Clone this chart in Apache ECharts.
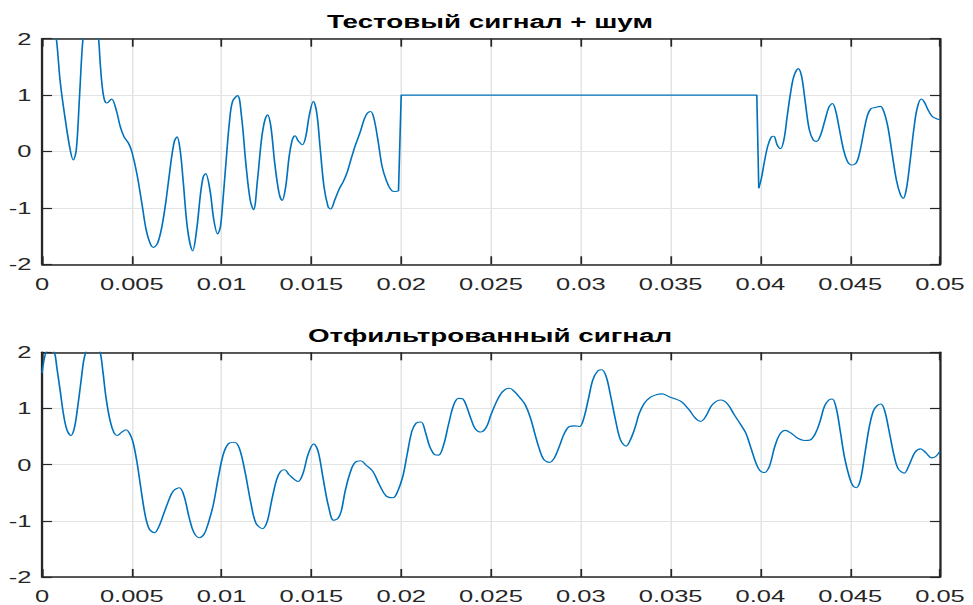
<!DOCTYPE html>
<html>
<head>
<meta charset="utf-8">
<script src="https://cdn.jsdelivr.net/npm/echarts@6/dist/echarts.min.js"></script>
<style>
  html, body { margin: 0; padding: 0; background: #fff; overflow: hidden; }
  #wrap { width: 973px; height: 605px; overflow: hidden; position: relative; }
  #chart { position: absolute; left: 0; top: 0; height: 605px; transform-origin: 0 0; }
</style>
</head>
<body>
<div id="wrap"><div id="chart"></div></div>
<script>
// ---- data -------------------------------------------------------------
const titleTop = 'Тестовый сигнал + шум';
const titleBottom = 'Отфильтрованный сигнал';

const xTickLabels = ['0', '0.005', '0.01', '0.015', '0.02', '0.025', '0.03', '0.035', '0.04', '0.045', '0.05'];
const yTickLabels = ['-2', '-1', '0', '1', '2'];

// test signal, noisy part before the pulse: [time, value]
const testNoiseA = [
  [0, 3.6], [0.0004, 2.9], [0.0008, 2.0], [0.00102, 1.22], [0.0013, 0.56], [0.00157, 0.03],
  [0.00174, -0.15], [0.00191, 0.03], [0.00209, 0.98], [0.00228, 2.0], [0.0027, 3.2],
  [0.00315, 2.0], [0.00324, 1.57], [0.00335, 1.16], [0.00348, 0.91], [0.00361, 0.86],
  [0.00387, 0.93], [0.00413, 0.74], [0.00435, 0.45], [0.00457, 0.26], [0.00481, 0.15],
  [0.005, 0.0], [0.00528, -0.39], [0.00556, -0.92], [0.0058, -1.39], [0.00602, -1.63],
  [0.0062, -1.70], [0.00643, -1.63], [0.00667, -1.34], [0.00691, -0.86], [0.00717, -0.21],
  [0.00737, 0.18], [0.00752, 0.26], [0.00769, 0.03], [0.00787, -0.56], [0.00811, -1.39],
  [0.00839, -1.76], [0.00861, -1.39], [0.00883, -0.74], [0.00898, -0.45], [0.00911, -0.39],
  [0.00935, -0.68], [0.00957, -1.22], [0.00978, -1.46], [0.00993, -1.34], [0.01006, -0.92],
  [0.01024, -0.21], [0.01043, 0.50], [0.01061, 0.89], [0.01089, 0.99], [0.01111, 0.62],
  [0.01135, -0.21], [0.01159, -0.86], [0.01178, -1.03], [0.012, -0.50], [0.01222, 0.21],
  [0.01241, 0.56], [0.01256, 0.65], [0.01274, 0.45], [0.01296, -0.21], [0.0132, -0.74],
  [0.01337, -0.87], [0.01357, -0.62], [0.01376, -0.09], [0.01394, 0.21], [0.01409, 0.28],
  [0.01428, 0.18], [0.0145, 0.12], [0.01469, 0.27], [0.01487, 0.62], [0.01511, 0.89],
  [0.0153, 0.68], [0.01548, 0.09], [0.0157, -0.62], [0.01593, -0.98], [0.01607, -1.02],
  [0.0163, -0.86], [0.01654, -0.67], [0.01678, -0.53], [0.017, -0.36], [0.01722, -0.12],
  [0.01746, 0.12], [0.0177, 0.33], [0.01793, 0.56], [0.01811, 0.68], [0.0183, 0.71],
  [0.01848, 0.59], [0.0187, 0.21], [0.01894, -0.27], [0.01919, -0.53], [0.01941, -0.67],
  [0.01959, -0.71], [0.01985, -0.70]
];

// test signal, rectangular pulse
const testPulse = [[0.01985, -0.70], [0.02, 1.0], [0.0398, 1.0], [0.03991, -0.65]];

// test signal, noisy part after the pulse
const testNoiseB = [
  [0.03991, -0.65], [0.04006, -0.47], [0.04024, -0.15], [0.04043, 0.12], [0.04062, 0.26],
  [0.04075, 0.27], [0.04093, 0.12], [0.04112, 0.05], [0.04131, 0.21], [0.04149, 0.62],
  [0.04168, 1.04], [0.04187, 1.34], [0.04211, 1.47], [0.04229, 1.34], [0.04248, 0.92],
  [0.04272, 0.39], [0.04295, 0.20], [0.04313, 0.18], [0.04336, 0.30], [0.0436, 0.56],
  [0.04382, 0.79], [0.04401, 0.85], [0.0442, 0.71], [0.0444, 0.39], [0.04463, 0.03],
  [0.04485, -0.18], [0.04509, -0.24], [0.04534, -0.20], [0.04556, 0.03], [0.04578, 0.39],
  [0.04597, 0.65], [0.04616, 0.76], [0.0464, 0.78], [0.04668, 0.80], [0.04687, 0.71],
  [0.04709, 0.45], [0.04733, -0.03], [0.04757, -0.50], [0.0478, -0.77], [0.04795, -0.83],
  [0.04812, -0.68], [0.04832, -0.21], [0.04854, 0.39], [0.04873, 0.77], [0.04896, 0.93],
  [0.04914, 0.87], [0.04933, 0.74], [0.04957, 0.62], [0.04981, 0.58], [0.05, 0.56]
];

// filtered signal
const filtered = [
  [0, 1.63], [0.00013, 1.89], [0.00024, 2.0], [0.00048, 2.06], [0.00069, 2.0], [0.00083, 1.72],
  [0.00102, 1.30], [0.0012, 0.89], [0.00139, 0.62], [0.00161, 0.52], [0.0018, 0.65],
  [0.00198, 1.01], [0.00217, 1.48], [0.00231, 1.83], [0.00243, 2.0], [0.00283, 2.4],
  [0.00324, 2.0], [0.00339, 1.66], [0.00357, 1.18], [0.0038, 0.77], [0.00402, 0.56],
  [0.0042, 0.52], [0.00444, 0.58], [0.00469, 0.62], [0.00487, 0.56], [0.00506, 0.41],
  [0.00528, 0.06], [0.0055, -0.41], [0.00574, -0.89], [0.00598, -1.15], [0.00626, -1.21],
  [0.00648, -1.12], [0.00676, -0.89], [0.00704, -0.65], [0.00731, -0.47], [0.00765, -0.41],
  [0.00791, -0.56], [0.0082, -0.95], [0.00846, -1.21], [0.00876, -1.30], [0.00902, -1.24],
  [0.00926, -1.04], [0.00954, -0.71], [0.00981, -0.24], [0.01009, 0.18], [0.01037, 0.37],
  [0.0107, 0.40], [0.01098, 0.30], [0.0113, -0.12], [0.01161, -0.65], [0.01191, -1.04],
  [0.01228, -1.14], [0.01254, -1.01], [0.01278, -0.65], [0.01306, -0.27], [0.01328, -0.12],
  [0.01352, -0.09], [0.01376, -0.18], [0.01426, -0.30], [0.01454, -0.15], [0.01481, 0.18],
  [0.01513, 0.37], [0.01537, 0.24], [0.01565, -0.24], [0.01593, -0.71], [0.01624, -0.99],
  [0.01647, -0.96], [0.01666, -0.83], [0.01688, -0.47], [0.01712, -0.18], [0.0174, 0.03],
  [0.01774, 0.07], [0.01805, -0.01], [0.01842, -0.12], [0.01879, -0.36], [0.01917, -0.56],
  [0.01954, -0.59], [0.01981, -0.47], [0.02009, -0.21], [0.02033, 0.18], [0.02059, 0.59],
  [0.02083, 0.74], [0.02111, 0.76], [0.02134, 0.59], [0.02158, 0.33], [0.02186, 0.18],
  [0.02208, 0.17], [0.02237, 0.36], [0.02263, 0.71], [0.02293, 1.07], [0.02319, 1.18],
  [0.02343, 1.17], [0.02367, 1.01], [0.0239, 0.80], [0.02412, 0.64], [0.02442, 0.58],
  [0.02473, 0.66], [0.025, 0.89], [0.02529, 1.11], [0.02557, 1.27], [0.02584, 1.35],
  [0.02603, 1.36], [0.02631, 1.30], [0.02664, 1.18], [0.0269, 1.07], [0.0272, 0.83],
  [0.02746, 0.53], [0.0277, 0.27], [0.02794, 0.09], [0.02826, 0.04], [0.02853, 0.12],
  [0.02881, 0.33], [0.02909, 0.56], [0.02937, 0.68], [0.02968, 0.69], [0.02993, 0.68],
  [0.03017, 0.83], [0.03043, 1.18], [0.03067, 1.51], [0.03095, 1.67], [0.03117, 1.69],
  [0.03141, 1.57], [0.03165, 1.24], [0.03191, 0.83], [0.03221, 0.44], [0.03252, 0.33],
  [0.0328, 0.47], [0.03308, 0.72], [0.03323, 0.89], [0.03351, 1.08], [0.03388, 1.20],
  [0.03425, 1.25], [0.03453, 1.26], [0.03491, 1.21], [0.03528, 1.17], [0.03565, 1.11],
  [0.03602, 0.98], [0.0364, 0.82], [0.03668, 0.77], [0.03696, 0.86], [0.03733, 1.07],
  [0.0378, 1.15], [0.03817, 1.08], [0.03854, 0.89], [0.03891, 0.71], [0.03919, 0.56],
  [0.03947, 0.30], [0.03975, 0.03], [0.03998, -0.11], [0.04022, -0.14], [0.0405, -0.03],
  [0.04078, 0.30], [0.04106, 0.53], [0.04139, 0.61], [0.04171, 0.56], [0.04208, 0.47],
  [0.04245, 0.43], [0.04277, 0.44], [0.04307, 0.56], [0.04333, 0.78], [0.04357, 1.04],
  [0.04381, 1.15], [0.044, 1.17], [0.04422, 1.01], [0.04445, 0.59], [0.04469, 0.12],
  [0.04497, -0.24], [0.04516, -0.38], [0.04534, -0.41], [0.04557, -0.27], [0.04581, 0.18],
  [0.04605, 0.65], [0.04628, 0.95], [0.0465, 1.05], [0.04671, 1.08], [0.04693, 0.95],
  [0.04717, 0.59], [0.04743, 0.18], [0.04767, -0.07], [0.04801, -0.15], [0.04829, 0.0],
  [0.04861, 0.22], [0.04892, 0.28], [0.04922, 0.21], [0.04954, 0.12], [0.04978, 0.15],
  [0.05, 0.24]
];

// ---- layout -----------------------------------------------------------
// The figure is drawn in a narrower box and stretched horizontally.
const SX = 1.5;
const W = 973 / SX;
const el = document.getElementById('chart');
el.style.width = W + 'px';
el.style.transform = 'scaleX(' + SX + ')';

const FONT = '"Liberation Sans", Arial, Helvetica, sans-serif';
const INK = '#262626';
const GRID_C = '#e3e3e3';
const LINE_C = '#0072BD';

const plots = [
  { top: 38.7, height: 225.6 },
  { top: 352.3, height: 225.2 }
];
const plotLeft = 42 / SX;
const plotWidth = 898 / SX;

const grids = plots.map(p => ({ left: plotLeft, top: p.top, width: plotWidth, height: p.height }));

const xAxes = [];
const yAxes = [];
plots.forEach((p, i) => {
  // bottom axis with labels and vertical grid lines
  xAxes.push({
    type: 'value', gridIndex: i, position: 'bottom', min: 0, max: 0.05, interval: 0.005,
    axisLine: { onZero: false, lineStyle: { color: INK, width: 1.5 } },
    axisTick: { inside: true, length: 8, lineStyle: { color: INK, width: 1.2 } },
    axisLabel: {
      margin: 11, color: INK, fontFamily: FONT, fontSize: 17,
      showMinLabel: true, showMaxLabel: true,
      formatter: v => xTickLabels[Math.round(v / 0.005)]
    },
    splitLine: { show: true, lineStyle: { color: GRID_C, width: 1 } }
  });
  // top edge of the box
  xAxes.push({
    type: 'value', gridIndex: i, position: 'top', min: 0, max: 0.05, interval: 0.005,
    axisLine: { onZero: false, lineStyle: { color: INK, width: 1.5 } },
    axisTick: { inside: true, length: 8, lineStyle: { color: INK, width: 1.2 } },
    axisLabel: { show: false },
    splitLine: { show: false }
  });
  // left axis with labels and horizontal grid lines
  yAxes.push({
    type: 'value', gridIndex: i, position: 'left', min: -2, max: 2, interval: 1,
    axisLine: { show: true, onZero: false, lineStyle: { color: INK, width: 1.5 } },
    axisTick: { show: true, inside: true, length: 10 / SX, lineStyle: { color: INK, width: 1.2 } },
    axisLabel: {
      margin: 7, color: INK, fontFamily: FONT, fontSize: 17,
      showMinLabel: true, showMaxLabel: true,
      formatter: v => yTickLabels[Math.round(v) + 2]
    },
    splitLine: { show: true, lineStyle: { color: GRID_C, width: 1 } }
  });
  // right edge of the box
  yAxes.push({
    type: 'value', gridIndex: i, position: 'right', min: -2, max: 2, interval: 1,
    axisLine: { show: true, onZero: false, lineStyle: { color: INK, width: 1.5 } },
    axisTick: { show: true, inside: true, length: 10 / SX, lineStyle: { color: INK, width: 1.2 } },
    axisLabel: { show: false },
    splitLine: { show: false }
  });
});

const lineSeries = (data, gridIdx, smooth) => ({
  type: 'line', data, xAxisIndex: gridIdx * 2, yAxisIndex: gridIdx * 2,
  showSymbol: false, symbol: 'none', smooth, clip: true,
  lineStyle: { color: LINE_C, width: 1.1 }, z: 3
});

const option = {
  animation: false,
  backgroundColor: '#ffffff',
  grid: grids,
  xAxis: xAxes,
  yAxis: yAxes,
  graphic: [
    { type: 'text', x: 490 / SX, y: 21.5, style: { text: titleTop, fill: '#000', align: 'center', verticalAlign: 'middle', font: 'bold 18.5px ' + FONT } },
    { type: 'text', x: 490 / SX, y: 335.5, style: { text: titleBottom, fill: '#000', align: 'center', verticalAlign: 'middle', font: 'bold 18.5px ' + FONT } }
  ],
  series: [
    lineSeries(testNoiseA, 0, 0.35),
    lineSeries(testPulse, 0, false),
    lineSeries(testNoiseB, 0, 0.35),
    lineSeries(filtered, 1, 0.35)
  ]
};

const chart = echarts.init(el, null, { renderer: 'svg' });
chart.setOption(option);
</script>
</body>
</html>
